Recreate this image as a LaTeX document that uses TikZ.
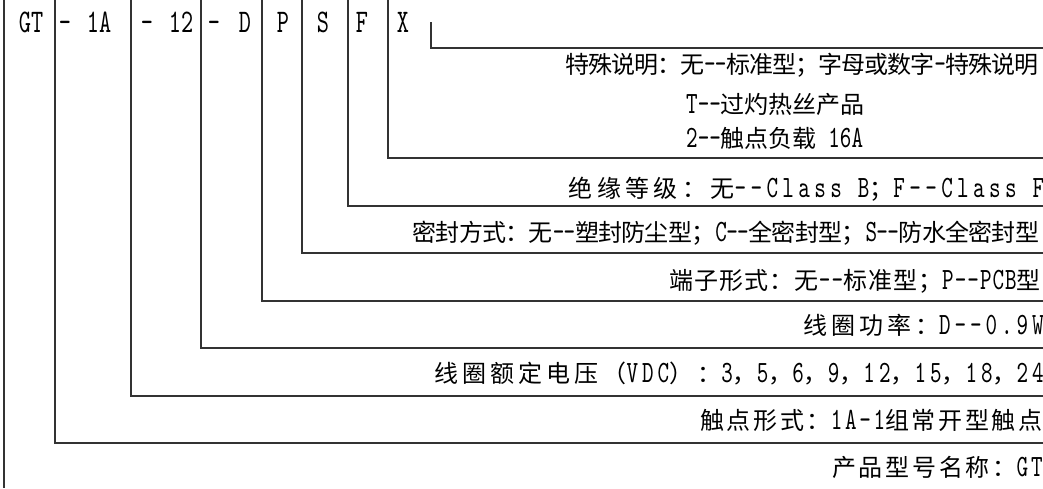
\documentclass[tikz,border=0pt]{standalone}
\usepackage{fontspec}
\newfontfamily\cjkf{Noto Sans CJK SC}
\newfontfamily\latf{lmmono10-regular}[Extension=.otf,FakeStretch=0.71]
\newfontfamily\codef{lmmono10-regular}[Extension=.otf,FakeStretch=0.70]
\newcommand\LA[1]{{\fontsize{33}{30}\codef #1}}
\newcommand\T[3]{{\fontsize{24}{28}\cjkf\addfontfeature{LetterSpace=#1}\def\la##1{{\fontsize{31}{28}\latf\addfontfeature{LetterSpace=#2}##1}}#3}}
\begin{document}
\begin{tikzpicture}[x=1pt,y=-1pt,
  ln/.style={line width=1.1pt, draw=black!80},
  desc/.style={anchor=base east, inner sep=0pt},
  descl/.style={anchor=base west, inner sep=0pt},
  code/.style={anchor=base, inner sep=0pt}]
\useasboundingbox (0,0) rectangle (1043,488);
% code letters
\node[code] (cGT) at (31,32) {\LA{GT}};
\node[code] (h1) at (65,32) {\LA{-}};
\node[code] (c1A) at (99,32) {\LA{1A}};
\node[code] (h2) at (147,32) {\LA{-}};
\node[code] (c12) at (181,32) {\LA{12}};
\node[code] (h3) at (214,32) {\LA{-}};
\node[code] (cD) at (245,32) {\LA{D}};
\node[code] (cP) at (283,32) {\LA{P}};
\node[code] (cS) at (323,32) {\LA{S}};
\node[code] (cF) at (362,32) {\LA{F}};
\node[code] (cX) at (403,32) {\LA{X}};
% line coordinates
\coordinate (tL) at (4,0);    \coordinate (eL) at (4,488);
\coordinate (tGT) at (55,0);  \coordinate (eGT) at (1043,443);
\coordinate (t1A) at (131,0); \coordinate (e1A) at (1043,396);
\coordinate (t12) at (201,0); \coordinate (e12) at (1043,348);
\coordinate (tD) at (262,0);  \coordinate (eD) at (1043,301);
\coordinate (tP) at (302,0);  \coordinate (eP) at (1043,253);
\coordinate (tS) at (348,0);  \coordinate (eS) at (1043,206);
\coordinate (tF) at (388,0);  \coordinate (eF) at (1043,158);
\coordinate (tX) at (431,22); \coordinate (eX) at (1043,48);
\draw[ln] (tL) -- (eL);
\foreach \k in {GT,1A,12,D,P,S,F,X}{\draw[ln] (t\k) |- (e\k);}
% descriptions
\node[desc] (dX1) at (1039,73) {\T{-4.2}{-3.2}{特殊说明：无\la{--}标准型；字母或数字\la{-}特殊说明}};
\node[descl] (dX2) at (686,113) {\T{0}{0}{\la{T--}过灼热丝产品}};
\node[descl] (dX3) at (686,147) {\T{0}{0}{\la{2--}触点负载\la{\ 16A}}};
\node[desc] (dF) at (1044.4,197) {\T{18.3}{14.2}{绝缘等级：无\la{--Class B}；\la{F--Class F}}};
\node[desc] (dS) at (1039.3,241) {\T{-3.1}{-2.4}{密封方式：无\la{--}塑封防尘型；\la{C--}全密封型；\la{S--}防水全密封型}};
\node[desc] (dP) at (1041,289) {\T{4.3}{3.4}{端子形式：无\la{--}标准型；\la{P--PCB}型}};
\node[desc] (dD) at (1043.9,334) {\T{16.5}{12.7}{线圈功率：\la{D--0.9W}}};
\node[desc] (d12) at (1044,382) {\T{16.5}{12.8}{线圈额定电压（\la{VDC}）：\la{3}，\la{5}，\la{6}，\la{9}，\la{12}，\la{15}，\la{18}，\la{24}}};
\node[desc] (d1A) at (1042.7,429) {\T{11.2}{8.7}{触点形式：\la{1A-1}组常开型触点}};
\node[desc] (dGT) at (1042.8,476) {\T{11.5}{8.9}{产品型号名称：\la{GT}}};
\end{tikzpicture}
\end{document}
